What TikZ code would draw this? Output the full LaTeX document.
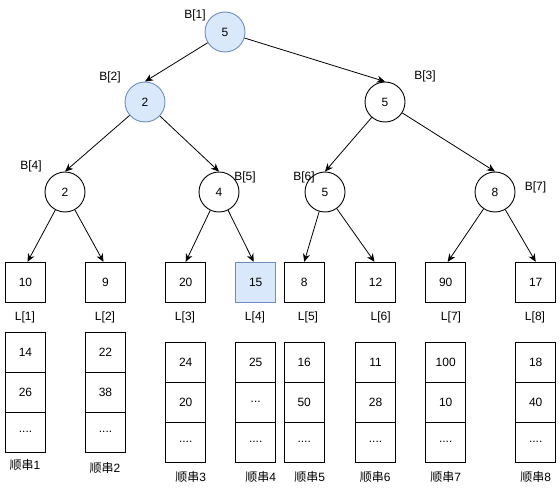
\documentclass[tikz,border=0pt]{standalone}
\usepackage{fontspec}
\setmainfont{Liberation Sans}
\newfontfamily\cjk{Noto Sans CJK SC}
\usetikzlibrary{arrows.meta}
\definecolor{bfill}{HTML}{DAE8FC}
\definecolor{bstroke}{HTML}{6C8EBF}
\tikzset{
  circ/.style={circle, draw=black, minimum size=40pt, inner sep=0pt, line width=0.9pt, font=\fontsize{12}{14}\selectfont},
  sq/.style={rectangle, draw=black, minimum width=40pt, minimum height=40pt, inner sep=0pt, line width=0.9pt, font=\fontsize{12}{14}\selectfont},
  hl/.style={fill=bfill, draw=bstroke},
  lbl/.style={inner sep=0pt, font=\fontsize{12}{14}\selectfont},
  arr/.style={line width=0.8pt, -{Stealth[length=8pt,width=7pt,inset=2.5pt]}},
}
\begin{document}
\begin{tikzpicture}[x=1pt,y=-1pt]
\useasboundingbox (0,0) rectangle (560,492);
% tree nodes
\node[circ,hl] (b1) at (225,32) {5};
\node[circ,hl] (b2) at (145,102) {2};
\node[circ] (b3) at (385,102) {5};
\node[circ] (b4) at (65,192) {2};
\node[circ] (b5) at (219,192) {4};
\node[circ] (b6) at (325,192) {5};
\node[circ] (b7) at (495,192) {8};
% tree labels
\node[lbl] (tb1) at (195,15) {B[1]};
\node[lbl] (tb2) at (110,77) {B[2]};
\node[lbl] (tb3) at (425,76) {B[3]};
\node[lbl] (tb4) at (31,166) {B[4]};
\node[lbl] (tb5) at (245,177) {B[5]};
\node[lbl] (tb6) at (304,177) {B[6]};
\node[lbl] (tb7) at (535.5,187) {B[7]};
% leaves
\node[sq] (l1) at (25.5,282.3) {10};
\node[sq] (l2) at (105.5,282.3) {9};
\node[sq] (l3) at (185.7,282.3) {20};
\node[sq,hl] (l4) at (255.7,282.3) {15};
\node[sq] (l5) at (304.2,282.3) {8};
\node[sq] (l6) at (375.5,282.3) {12};
\node[sq] (l7) at (445.7,282.3) {90};
\node[sq] (l8) at (535.7,282.3) {17};
% leaf labels
\node[lbl] (tl1) at (25,317.5) {L[1]};
\node[lbl] (tl2) at (105,317.5) {L[2]};
\node[lbl] (tl3) at (185,317.5) {L[3]};
\node[lbl] (tl4) at (255,317.5) {L[4]};
\node[lbl] (tl5) at (308,317.5) {L[5]};
\node[lbl] (tl6) at (380.7,317.5) {L[6]};
\node[lbl] (tl7) at (451,317.5) {L[7]};
\node[lbl] (tl8) at (535,317.5) {L[8]};
% tree edges
\draw[arr] (b1) -- (b2.north);
\draw[arr] (b1) -- (b3.north);
\draw[arr] (b2) -- (b4.north);
\draw[arr] (b2) -- (b5.north);
\draw[arr] (b3) -- (b6.north);
\draw[arr] (b3) -- (b7.north);
\draw[arr] (b4) -- ([xshift=2pt]l1.north);
\draw[arr] (b4) -- ([xshift=-2pt]l2.north);
\draw[arr] (b5) -- (l3.north);
\draw[arr] (b5) -- ([xshift=-2pt]l4.north);
\draw[arr] (b6) -- (l5.north);
\draw[arr] (b6) -- ([xshift=-1pt]l6.north);
\draw[arr] (b7) -- ([xshift=2pt]l7.north);
\draw[arr] (b7) -- (l8.north);
% runs
\node[sq] (r1a) at (25.5,352.3) {14};
\node[sq] (r1b) at (25.5,392.3) {26};
\node[sq] (r1c) at (25.5,432.3) {....};
\node[sq] (r2a) at (105.5,352.3) {22};
\node[sq] (r2b) at (105.5,392.3) {38};
\node[sq] (r2c) at (105.5,432.3) {....};
\node[sq] (r3a) at (185.7,362.3) {24};
\node[sq] (r3b) at (185.7,402.3) {20};
\node[sq] (r3c) at (185.7,442.3) {....};
\node[sq] (r4a) at (255.7,362.3) {25};
\node[sq] (r4b) at (255.7,402.3) {...};
\node[sq] (r4c) at (255.7,442.3) {....};
\node[sq] (r5a) at (304.2,362.3) {16};
\node[sq] (r5b) at (304.2,402.3) {50};
\node[sq] (r5c) at (304.2,442.3) {....};
\node[sq] (r6a) at (375.5,362.3) {11};
\node[sq] (r6b) at (375.5,402.3) {28};
\node[sq] (r6c) at (375.5,442.3) {....};
\node[sq] (r7a) at (445.7,362.3) {100};
\node[sq] (r7b) at (445.7,402.3) {10};
\node[sq] (r7c) at (445.7,442.3) {....};
\node[sq] (r8a) at (535.7,362.3) {18};
\node[sq] (r8b) at (535.7,402.3) {40};
\node[sq] (r8c) at (535.7,442.3) {....};
% run labels
\node[lbl] (s1) at (25,465) {{\cjk 顺串}1};
\node[lbl] (s2) at (105,467.7) {{\cjk 顺串}2};
\node[lbl] (s3) at (190.7,477) {{\cjk 顺串}3};
\node[lbl] (s4) at (260.7,477) {{\cjk 顺串}4};
\node[lbl] (s5) at (309.7,477) {{\cjk 顺串}5};
\node[lbl] (s6) at (375.3,477) {{\cjk 顺串}6};
\node[lbl] (s7) at (445.7,477) {{\cjk 顺串}7};
\node[lbl] (s8) at (535.7,477) {{\cjk 顺串}8};
\end{tikzpicture}
\end{document}
